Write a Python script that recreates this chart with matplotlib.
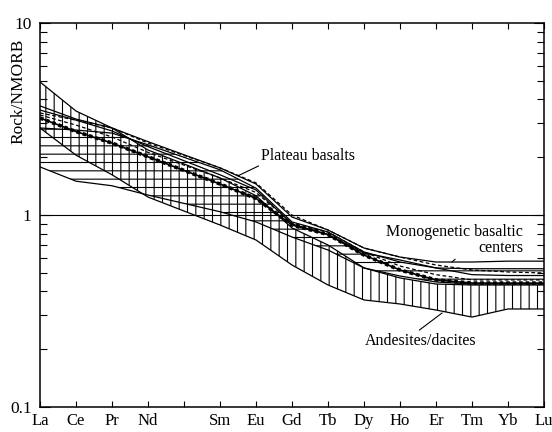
"""REE patterns normalised to N-MORB: andesites/dacites, monogenetic centres, plateau basalts."""
import matplotlib
matplotlib.use("Agg")
import matplotlib.pyplot as plt
import numpy as np
from matplotlib.ticker import FixedLocator, LogLocator, NullFormatter

plt.rcParams["font.family"] = ["Liberation Serif", "DejaVu Serif"]
plt.rcParams["hatch.linewidth"] = 0.8

# element order along the x axis (Pm kept as an empty slot)
elements = ["La", "Ce", "Pr", "Nd", "", "Sm", "Eu", "Gd", "Tb", "Dy", "Ho", "Er", "Tm", "Yb", "Lu"]
ree = ["La", "Ce", "Pr", "Nd", "Sm", "Eu", "Gd", "Tb", "Dy", "Ho", "Er", "Tm", "Yb", "Lu"]

# andesites/dacites field (vertical hatch)
andesite_upper = [4.93, 3.48, 2.84, 2.18, 1.56, 1.26, 0.856, 0.698, 0.530, 0.470, 0.437, 0.432, 0.432, 0.432]
andesite_lower = [2.84, 2.05, 1.62, 1.24, 0.887, 0.741, 0.549, 0.432, 0.361, 0.344, 0.320, 0.294, 0.324, 0.324]

# monogenetic basaltic centres field (horizontal hatch)
mono_upper = [2.84, 2.77, 2.67, 2.32, 1.72, 1.38, 0.92, 0.815, 0.642, 0.569, 0.530, 0.525, 0.525, 0.525]
mono_lower = [1.78, 1.50, 1.42, 1.27, 1.04, 0.92, 0.768, 0.657, 0.530, 0.481, 0.448, 0.437, 0.437, 0.437]

# individual solid patterns
solid_a = [3.70, 3.16, 2.84, 2.41, 1.76, 1.45, 0.976, 0.835, 0.673, 0.604, 0.569, 0.569, 0.575, 0.575]
solid_b = [3.52, 3.12, 2.74, 2.27, 1.62, 1.35, 0.898, 0.791, 0.635, 0.583, 0.530, 0.489, 0.484, 0.484]

# plateau basalts: envelope (dashed) and mean (thick dotted)
plateau_max = [3.40, 3.12, 2.84, 2.37, 1.76, 1.47, 1.00, 0.835, 0.673, 0.604, 0.549, 0.517, 0.505, 0.499]
plateau_min = [3.32, 2.94, 2.55, 2.12, 1.56, 1.31, 0.907, 0.815, 0.642, 0.542, 0.489, 0.459, 0.459, 0.459]
plateau_mean = [3.20, 2.72, 2.37, 2.01, 1.45, 1.22, 0.887, 0.791, 0.619, 0.517, 0.459, 0.442, 0.442, 0.442]

x_pos = np.array([elements.index(e) for e in ree])

fig = plt.figure(figsize=(5.52, 4.32), dpi=100)
ax = fig.add_axes([40 / 552, 25 / 432, 504 / 552, 384 / 432])

ax.fill_between(x_pos, andesite_lower, andesite_upper, facecolor="none",
                edgecolor="black", hatch="||", linewidth=0)
ax.fill_between(x_pos, mono_lower, mono_upper, facecolor="none",
                edgecolor="black", hatch="--", linewidth=0)

for vals in (andesite_upper, andesite_lower, mono_upper, mono_lower, solid_a, solid_b):
    ax.plot(x_pos, vals, color="black", lw=0.9)
for vals in (plateau_max, plateau_min):
    ax.plot(x_pos, vals, color="black", lw=0.9, ls=(0, (3, 2)))
ax.plot(x_pos, plateau_mean, color="black", lw=1.2)
ax.plot(x_pos, plateau_mean, color="black", lw=2.6, ls=(0, (1, 0.8)))

ax.axhline(1, color="black", lw=0.8)

ax.set_yscale("log")
ax.set_ylim(0.1, 10)
ax.set_xlim(0, 14)
ax.set_xticks(range(len(elements)))
ax.set_xticklabels(elements, fontsize=12)
ax.yaxis.set_major_locator(FixedLocator([0.1, 1, 10]))
ax.set_yticklabels(["0.1", "1", "10"], fontsize=12.5)
ax.yaxis.set_minor_locator(LogLocator(base=10, subs=np.arange(2, 10)))
ax.yaxis.set_minor_formatter(NullFormatter())
ax.tick_params(axis="x", direction="in", top=True, length=4, width=0.8, pad=4)
ax.tick_params(axis="y", which="both", direction="in", left=True, right=True, width=0.8, pad=6)
ax.tick_params(axis="y", which="major", length=7)
ax.tick_params(axis="y", which="minor", length=5)
for s in ax.spines.values():
    s.set_linewidth(1.1)

fig.text(18 / 552, 1 - 91 / 432, "Rock/NMORB", rotation=90, ha="center", va="center", fontsize=12.5)

ax.annotate("Plateau basalts", xy=(5.5, 1.6), xytext=(6.15, 2.03),
            fontsize=11.5, ha="left", va="center",
            arrowprops=dict(arrowstyle="-", color="black", lw=0.8, shrinkA=0, shrinkB=0,
                            relpos=(0.05, 0.1)))
ax.annotate("Monogenetic basaltic\ncenters", xy=(11.44, 0.569), xytext=(13.42, 0.737),
            fontsize=11.5, ha="right", va="center", multialignment="right",
            linespacing=1.0,
            arrowprops=dict(arrowstyle="-", color="black", lw=0.8, shrinkA=0, shrinkB=0,
                            relpos=(0.64, 0.4)))
ax.annotate("Andesites/dacites", xy=(11.17, 0.309), xytext=(10.56, 0.221),
            fontsize=11.5, ha="center", va="center",
            arrowprops=dict(arrowstyle="-", color="black", lw=0.8, shrinkA=0, shrinkB=0,
                            relpos=(0.46, 1)))

fig.savefig("out.png", dpi=100)
